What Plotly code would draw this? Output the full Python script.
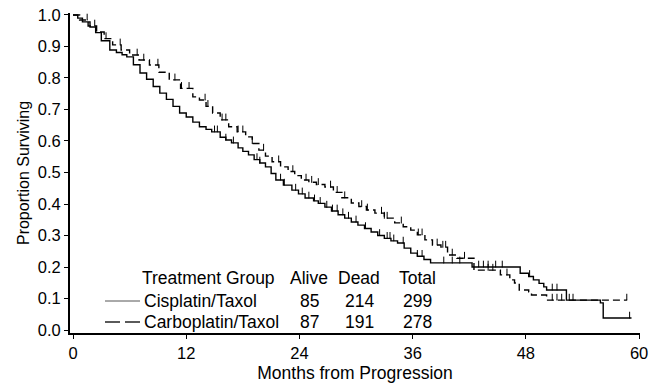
import numpy as np
import plotly.graph_objects as go

# ---------------- data ----------------
cis_time = [0, 0.5, 1.0, 1.8, 2.4, 3.0, 3.9, 4.6, 5.2, 5.7, 6.4, 7.1, 7.8, 8.5, 9.2, 9.9, 10.6,
            11.3, 12.0, 12.7, 13.4, 14.1, 14.7, 15.6, 16.2, 16.8, 17.5, 18.0, 18.6, 19.2, 19.8, 20.4,
            21.0, 21.5, 22.3, 23.2, 23.9, 24.6, 25.5, 26.0, 26.7, 27.4, 28.1, 28.8, 29.5, 30.2, 30.9,
            31.6, 32.3, 33.0, 33.7, 34.4, 35.1, 35.8, 36.5, 37.2, 37.9, 42.3, 47.4, 48.3, 48.8, 49.4,
            49.9, 50.2, 52.3, 55.9, 56.2, 59.2]
cis_surv = [1.0, 0.99, 0.978, 0.962, 0.944, 0.918, 0.889, 0.881, 0.874, 0.867, 0.842, 0.816, 0.796,
            0.773, 0.752, 0.732, 0.71, 0.689, 0.676, 0.660, 0.645, 0.637, 0.629, 0.612, 0.603, 0.594,
            0.578, 0.567, 0.556, 0.541, 0.530, 0.518, 0.497, 0.476, 0.460, 0.444, 0.432, 0.419, 0.410,
            0.402, 0.390, 0.378, 0.366, 0.355, 0.343, 0.333, 0.322, 0.311, 0.300, 0.291, 0.283, 0.276,
            0.260, 0.244, 0.234, 0.224, 0.213, 0.200, 0.180, 0.170, 0.159, 0.148, 0.137, 0.127, 0.095,
            0.086, 0.038, 0.038]
cis_censor = [15.0, 15.3, 16.2, 17.0, 19.5, 19.8, 22.0, 22.4, 23.6, 24.3, 25.0, 25.6, 26.2, 26.9,
              27.5, 28.0, 28.6, 29.2, 30.0, 31.0, 32.5, 33.3, 33.6, 34.0, 35.0, 36.5, 37.0, 39.3,
              40.2, 41.0, 43.0, 43.5, 44.0, 44.8, 45.5, 48.4, 50.8, 51.3, 52.6, 53.0, 59.0]

carbo_time = [0, 0.7, 1.6, 2.5, 3.3, 4.2, 5.1, 6.0, 7.0, 8.1, 9.1, 10.2, 11.4, 12.7, 13.4, 14.1,
              14.8, 15.6, 16.5, 17.4, 18.3, 19.0, 19.7, 20.4, 21.1, 22.0, 22.8, 23.5, 24.2, 25.0,
              25.8, 26.7, 27.6, 28.5, 29.5, 30.3, 31.1, 32.0, 33.0, 34.1, 35.0, 35.8, 36.5, 37.3,
              38.1, 39.0, 39.7, 40.7, 42.5, 45.3, 46.3, 46.8, 47.3, 48.3, 48.6, 50.2, 58.7]
carbo_surv = [1.0, 0.984, 0.965, 0.946, 0.925, 0.905, 0.889, 0.873, 0.857, 0.841, 0.818, 0.794,
              0.767, 0.740, 0.730, 0.71, 0.689, 0.667, 0.645, 0.629, 0.613, 0.592, 0.571, 0.552,
              0.534, 0.518, 0.503, 0.490, 0.476, 0.469, 0.462, 0.454, 0.437, 0.420, 0.403, 0.392,
              0.381, 0.371, 0.355, 0.340, 0.328, 0.317, 0.302, 0.286, 0.270, 0.263, 0.238, 0.228,
              0.190, 0.175, 0.159, 0.149, 0.127, 0.121, 0.111, 0.095, 0.095]
carbo_censor = [1.5, 2.3, 3.5, 5.0, 6.8, 7.5, 9.0, 10.8, 11.5, 12.3, 14.0, 14.3, 15.8, 16.2, 17.5,
                18.0, 19.0, 20.2, 21.8, 23.3, 24.7, 25.3, 26.0, 27.3, 28.0, 28.8, 30.6, 31.2, 32.7,
                33.0, 33.3, 34.8, 36.6, 37.0, 38.6, 39.2, 39.5, 40.2, 41.5, 44.0, 44.5, 46.0, 50.8,
                51.3, 51.8, 58.7]

table_header = ["Treatment Group", "Alive", "Dead", "Total"]
groups = ["Cisplatin/Taxol", "Carboplatin/Taxol"]
alive = [85, 87]
dead = [214, 191]
total = [299, 278]

x_ticks = [0, 12, 24, 36, 48, 60]
y_ticks = [0.0, 0.1, 0.2, 0.3, 0.4, 0.5, 0.6, 0.7, 0.8, 0.9, 1.0]

# ---------------- figure ----------------
W, H = 649, 385
L, R, T, B = 70, 9, 13, 52
FONT = "Liberation Sans, Arial, Helvetica, sans-serif"
FS = 17.5
TFS = 16.5
CENSOR_H = 0.02  # height of the censor tick, in survival units


def step_value(times, surv, t):
    idx = np.searchsorted(np.asarray(times), t, side="right") - 1
    return np.asarray(surv)[idx]


fig = go.Figure()
series = [
    (groups[0], cis_time, cis_surv, cis_censor, "solid"),
    (groups[1], carbo_time, carbo_surv, carbo_censor, "7px,4px"),
]
for name, tt, ss, cc, dash in series:
    fig.add_trace(go.Scatter(x=tt, y=ss, mode="lines", line_shape="hv", name=name,
                             line=dict(color="black", width=1.4, dash=dash), showlegend=False))
    n = len(cc)
    fig.add_trace(go.Scatter(x=cc, y=step_value(tt, ss, cc), mode="markers", showlegend=False,
                             marker=dict(size=1, color="black"),
                             error_y=dict(type="data", symmetric=False, array=[CENSOR_H] * n,
                                          arrayminus=[0] * n, width=0, thickness=1,
                                          color="black")))

fig.update_layout(
    width=W, height=H,
    margin=dict(l=L, r=R, t=T, b=B, autoexpand=False),
    paper_bgcolor="white", plot_bgcolor="white",
    font=dict(family=FONT, size=FS, color="black"),
    showlegend=False,
)
fig.update_xaxes(range=[-0.32, 60.1], tickvals=x_ticks, ticktext=[str(v) for v in x_ticks],
                 showgrid=False, zeroline=False, showline=True, linecolor="black", linewidth=2,
                 ticks="outside", ticklen=4, tickwidth=1, tickcolor="black",
                 ticklabeloverflow="allow", automargin=False,
                 title=dict(text="Months from Progression", font=dict(size=FS), standoff=6),
                 tickfont=dict(size=TFS))
fig.update_yaxes(range=[-0.0095, 1.0063], tickvals=y_ticks, ticktext=[f"{v:.1f}" for v in y_ticks],
                 showgrid=False, zeroline=False, showline=True, linecolor="black", linewidth=2,
                 ticks="outside", ticklen=4, tickwidth=1, tickcolor="black", automargin=False,
                 title=dict(text="Proportion Surviving", font=dict(size=16), standoff=4),
                 tickfont=dict(size=TFS))

# ---------------- in-plot table legend ----------------
pw, ph = W - L - R, H - T - B


def px(xp):
    return (xp - L) / pw


def py(yp):
    return (H - B - yp) / ph


col_x = [140, 309, 359, 417]
row_y = [278, 301, 322]
fig.add_annotation(x=px(col_x[0]), y=py(row_y[0]), xref="paper", yref="paper", text=table_header[0],
                   xanchor="left", yanchor="middle", showarrow=False, font=dict(size=FS))
for j in range(1, 4):
    fig.add_annotation(x=px(col_x[j]), y=py(row_y[0]), xref="paper", yref="paper",
                       text=table_header[j], xanchor="center", yanchor="middle", showarrow=False,
                       font=dict(size=FS))
for i in range(2):
    vals = [groups[i], str(alive[i]), str(dead[i]), str(total[i])]
    for j, v in enumerate(vals):
        fig.add_annotation(x=px(col_x[j]) if j else px(col_x[0] + 2), y=py(row_y[i + 1]),
                           xref="paper", yref="paper", text=v,
                           xanchor="left" if j == 0 else "center", yanchor="middle",
                           showarrow=False, font=dict(size=FS))

fig.add_shape(type="line", xref="paper", yref="paper", x0=px(105), x1=px(140),
              y0=py(row_y[1]), y1=py(row_y[1]), line=dict(color="#555", width=1))
fig.add_shape(type="line", xref="paper", yref="paper", x0=px(105), x1=px(120),
              y0=py(row_y[2]), y1=py(row_y[2]), line=dict(color="black", width=1.3))
fig.add_shape(type="line", xref="paper", yref="paper", x0=px(125), x1=px(140),
              y0=py(row_y[2]), y1=py(row_y[2]), line=dict(color="black", width=1.3))

fig.write_html("out.html")
